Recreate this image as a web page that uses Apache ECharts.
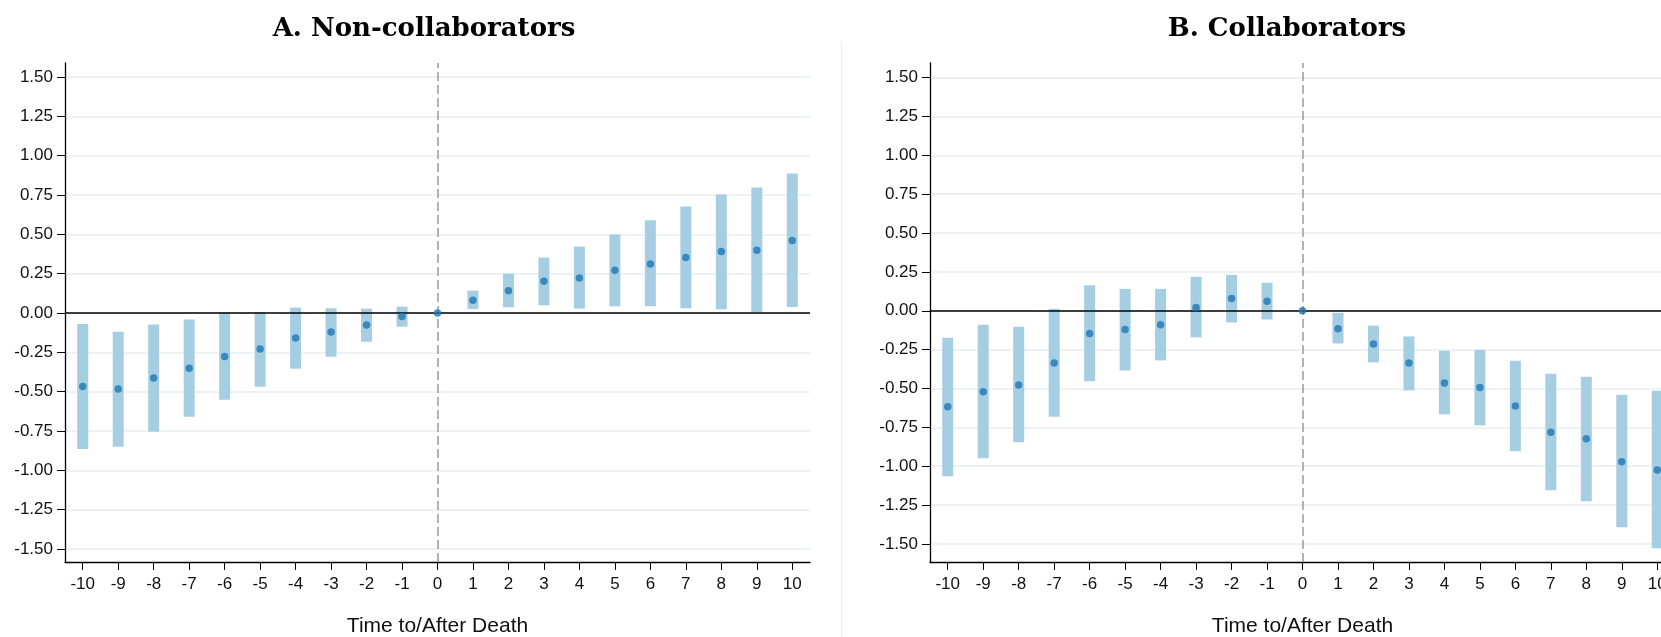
<!DOCTYPE html>
<html>
<head>
<meta charset="utf-8">
<script src="https://cdn.jsdelivr.net/npm/echarts@6/dist/echarts.min.js"></script>
<style>
html,body{margin:0;padding:0;background:#fff;overflow:hidden;}
#chart{width:1661px;height:637px;}
</style>
</head>
<body>
<div id="chart"></div>
<script>
// ---- data ----
const periods = ['-10','-9','-8','-7','-6','-5','-4','-3','-2','-1','0','1','2','3','4','5','6','7','8','9','10'];
const yTickValues = [-1.5,-1.25,-1,-0.75,-0.5,-0.25,0,0.25,0.5,0.75,1,1.25,1.5];

const titleA = 'A. Non-collaborators';
const titleB = 'B. Collaborators';
const xAxisTitle = 'Time to/After Death';

const nonCollabCoef = [-0.467,-0.484,-0.414,-0.352,-0.276,-0.229,-0.159,-0.121,-0.076,-0.023,0,0.081,0.142,0.202,0.223,0.272,0.312,0.352,0.390,0.399,0.461];
const nonCollabHi   = [-0.070,-0.119,-0.074,-0.042,0.006,0.006,0.034,0.030,0.028,0.040,null,0.142,0.250,0.352,0.422,0.499,0.589,0.677,0.753,0.798,0.887];
const nonCollabLo   = [-0.864,-0.851,-0.755,-0.660,-0.552,-0.469,-0.354,-0.278,-0.183,-0.087,null,0.025,0.036,0.049,0.028,0.042,0.042,0.030,0.023,0.006,0.038];

const collabCoef = [-0.617,-0.521,-0.478,-0.336,-0.146,-0.120,-0.090,0.021,0.079,0.062,0,-0.116,-0.214,-0.336,-0.465,-0.493,-0.613,-0.782,-0.823,-0.971,-1.024];
const collabHi   = [-0.174,-0.090,-0.103,0.013,0.165,0.141,0.141,0.219,0.231,0.180,null,-0.013,-0.096,-0.165,-0.257,-0.251,-0.321,-0.405,-0.424,-0.540,-0.514];
const collabLo   = [-1.065,-0.949,-0.846,-0.681,-0.454,-0.384,-0.319,-0.171,-0.075,-0.056,null,-0.210,-0.332,-0.512,-0.666,-0.737,-0.904,-1.155,-1.226,-1.393,-1.528];

// ---- styles ----
const ciColor = '#a6cee3';
const dotColor = '#1f78b4';
const gridLineColor = '#edf2f4';
const labelFont = 'Liberation Sans, Arial, sans-serif';

const chart = echarts.init(document.getElementById('chart'), null, {renderer:'canvas'});

function ciData(lo, hi){
  const out = [];
  for (let i = 0; i < periods.length; i++){
    if (lo[i] == null || hi[i] == null) continue;
    out.push([i, lo[i], hi[i]]);
  }
  return out;
}
function dotData(coef){
  return coef.map((v,i)=>[i, v]);
}
function renderCI(params, api){
  const x = api.value(0);
  const p1 = api.coord([x, api.value(2)]);
  const p2 = api.coord([x, api.value(1)]);
  const w = 11;
  return {
    type: 'rect',
    shape: {x: p1[0] - w/2, y: p1[1], width: w, height: p2[1] - p1[1]},
    style: {fill: ciColor}
  };
}

const zeroIdx = periods.indexOf('0');

function makeX(gridIndex){
  return {
    type: 'category',
    gridIndex: gridIndex,
    data: periods,
    boundaryGap: true,
    axisLine: {show: true, onZero: false, lineStyle: {color: '#000', width: 1.3}},
    axisTick: {show: true, alignWithLabel: true, length: 8, lineStyle: {color: '#000', width: 1}},
    axisLabel: {color: '#111', fontSize: 17, fontFamily: labelFont, margin: 14, interval: 0},
    splitLine: {show: false},
    name: xAxisTitle,
    nameLocation: 'middle',
    nameGap: 54,
    nameTextStyle: {color: '#111', fontSize: 21, fontFamily: labelFont}
  };
}
function makeY(gridIndex, min, max){
  return {
    type: 'value',
    gridIndex: gridIndex,
    min: min,
    max: max,
    axisLine: {show: true, lineStyle: {color: '#000', width: 1.3}},
    axisTick: {show: true, length: 8, customValues: yTickValues, lineStyle: {color: '#000', width: 1}},
    axisLabel: {color: '#111', fontSize: 17, fontFamily: labelFont, margin: 12, customValues: yTickValues,
      formatter: v => (Math.round(v*100)/100).toFixed(2)},
    splitLine: {show: true, lineStyle: {color: gridLineColor, width: 2}}
  };
}
function refLines(){
  return {
    silent: true,
    symbol: ['none','none'],
    label: {show: false},
    data: [
      {xAxis: zeroIdx, lineStyle: {color: '#9a9a9a', type: [9,4], width: 1.5}},
      {yAxis: 0, lineStyle: {color: '#000', type: 'solid', width: 1.5}}
    ]
  };
}

const option = {
  animation: false,
  backgroundColor: '#fff',
  title: [
    {text: titleA, left: 419, top: 11, textAlign: 'center',
     textStyle: {fontFamily: 'DejaVu Serif, serif', fontWeight: 'bold', fontSize: 26, color: '#000'}},
    {text: titleB, left: 1282, top: 11, textAlign: 'center',
     textStyle: {fontFamily: 'DejaVu Serif, serif', fontWeight: 'bold', fontSize: 26, color: '#000'}}
  ],
  graphic: [
    {type: 'line', shape: {x1: 841.5, y1: 42, x2: 841.5, y2: 637}, style: {stroke: '#ececec', lineWidth: 1}, z: -1}
  ],
  grid: [
    {left: 65, top: 63, width: 745, height: 499, containLabel: false, outerBoundsMode: 'none'},
    {left: 930, top: 63, width: 745, height: 499, containLabel: false, outerBoundsMode: 'none'}
  ],
  xAxis: [makeX(0), makeX(1)],
  yAxis: [makeY(0, -1.583, 1.589), makeY(1, -1.616, 1.594)],
  series: [
    {type: 'custom', xAxisIndex: 0, yAxisIndex: 0, renderItem: renderCI, data: ciData(nonCollabLo, nonCollabHi), z: 2,
     markLine: refLines()},
    {type: 'scatter', xAxisIndex: 0, yAxisIndex: 0, data: dotData(nonCollabCoef), symbolSize: 7.5,
     itemStyle: {color: dotColor}, z: 5},
    {type: 'custom', xAxisIndex: 1, yAxisIndex: 1, renderItem: renderCI, data: ciData(collabLo, collabHi), z: 2,
     markLine: refLines()},
    {type: 'scatter', xAxisIndex: 1, yAxisIndex: 1, data: dotData(collabCoef), symbolSize: 7.5,
     itemStyle: {color: dotColor}, z: 5}
  ]
};
chart.setOption(option);
</script>
</body>
</html>
